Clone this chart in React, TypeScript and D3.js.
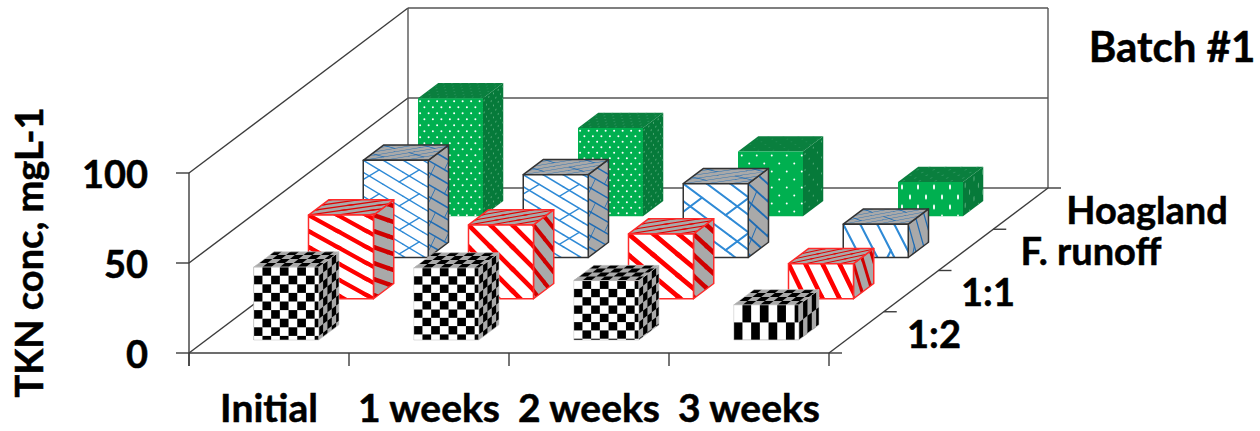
import React from "react";
import * as d3 from "d3";

// TKN concentration per batch week, one list per treatment.
const categories = ["Initial", "1 weeks", "2 weeks", "3 weeks"];
const seriesNames = ["1:2", "1:1", "F. runoff", "Hoagland"];
const ratio12 = [40.5, 40, 33, 19.5];
const ratio11 = [46.5, 41, 36, 19.5];
const runoff = [54, 46, 41, 18.5];
const hoagland = [65.5, 49, 36, 19];
const seriesValues = [ratio12, ratio11, runoff, hoagland];
const yTicks = [0, 50, 100];

const W = 1260;
const H = 431;
const FONT = "Lato, 'Noto Sans', sans-serif";
const AXIS = "#3c3c3c";

// Floor of the 3-D box: the front edge plus the vector running to the back wall.
const frontLeft = 189;
const frontRight = 829;
const floorY = 353;
const backDx = 219;
const backDy = -165;
const wallTop = 180;

const xBand = d3.scaleBand<string>().domain(categories).range([frontLeft, frontRight]);
const depthBand = d3.scaleBand<string>().domain(seriesNames).range([0, 1]);
const heightScale = d3.scaleLinear().domain([0, 100]).range([0, wallTop]);

const barWidth = 65;
const barDepth = 0.37 * depthBand.step();
const depthGap = 0.315 * depthBand.step();

type Tile = [number, number];
type Tex = {
  kind: string;
  tiles: Tile[];
  sideFactor: number;
  topVec: Tile;
  front: [string, string];
  side: [string, string];
  top: [string, string];
  edge: string;
  edgeWidth: number;
};

// Hatch tile sizes vary per bar, since the fills stretch with the bar they cover.
const textures: Tex[] = [
  {
    kind: "checker",
    tiles: [[17.4, 17.2], [17.4, 16.6], [17.4, 16.6], [17.4, 35]],
    sideFactor: 0.5,
    topVec: [10, -8],
    front: ["#ffffff", "#000000"],
    side: ["#a9a9a9", "#000000"],
    top: ["#a9a9a9", "#000000"],
    edge: "#c8c8c8",
    edgeWidth: 0.6,
  },
  {
    kind: "stripe",
    tiles: [[29, 16], [22, 22], [25, 21], [17, 35]],
    sideFactor: 0.5,
    topVec: [6.5, -5],
    front: ["#ffffff", "#ff0000"],
    side: ["#a9a9a9", "#d00000"],
    top: ["#a9a9a9", "#e00000"],
    edge: "#ff2a2a",
    edgeWidth: 1.5,
  },
  {
    kind: "brick",
    tiles: [[40, 24], [40, 24], [47, 35], [34, 66]],
    sideFactor: 0.45,
    topVec: [11, -8.5],
    front: ["#ffffff", "#2f8ad6"],
    side: ["#a9a9a9", "#1f6cb4"],
    top: ["#a9a9a9", "#1f6cb4"],
    edge: "#333333",
    edgeWidth: 1.5,
  },
  {
    kind: "dots",
    tiles: [[8.5, 12], [8.5, 11], [15, 16], [16, 20]],
    sideFactor: 0.55,
    topVec: [7, -5.5],
    front: ["#00b050", "#ffffff"],
    side: ["#067a3a", "#58ad7d"],
    top: ["#0a7f3e", "#2f9560"],
    edge: "none",
    edgeWidth: 0,
  },
];

function TileMarks({ kind, ink, rx, ry }: { kind: string; ink: string; rx: number; ry: number }) {
  if (kind === "checker") {
    return (
      <g fill={ink}>
        <rect x={50} y={0} width={50} height={50} />
        <rect x={0} y={50} width={50} height={50} />
      </g>
    );
  }
  if (kind === "stripe") {
    return <line x1={0} y1={0} x2={100} y2={100} stroke={ink} strokeWidth={21} strokeLinecap="square" />;
  }
  if (kind === "brick") {
    return (
      <g stroke={ink} strokeWidth={5} fill="none" strokeLinecap="round">
        <line x1={0} y1={0} x2={100} y2={100} />
        <line x1={0} y1={50} x2={50} y2={100} />
        <line x1={50} y1={0} x2={100} y2={50} />
        <line x1={15} y1={65} x2={40} y2={40} />
        <line x1={90} y1={90} x2={115} y2={65} />
      </g>
    );
  }
  return (
    <g fill={ink}>
      <ellipse cx={25} cy={25} rx={rx} ry={ry} />
      <ellipse cx={75} cy={75} rx={rx} ry={ry} />
    </g>
  );
}

// Paints a polygon with a hatch tile laid out along the face's own axes.
function Face({
  id,
  points,
  matrix,
  colours,
  kind,
  rx,
  ry,
  edge,
  edgeWidth,
}: {
  id: string;
  points: number[][];
  matrix: number[];
  colours: [string, string];
  kind: string;
  rx: number;
  ry: number;
  edge: string;
  edgeWidth: number;
}) {
  const [a, b, c, d, e, f] = matrix;
  const det = a * d - b * c;
  const local = points.map(([x, y]) => [
    (d * (x - e) - c * (y - f)) / det,
    (a * (y - f) - b * (x - e)) / det,
  ]);
  const uRange = d3.extent(local, (p) => p[0]) as [number, number];
  const vRange = d3.extent(local, (p) => p[1]) as [number, number];
  const cols = d3.range(Math.floor(uRange[0] / 100) - 1, Math.ceil(uRange[1] / 100) + 1);
  const rows = d3.range(Math.floor(vRange[0] / 100) - 1, Math.ceil(vRange[1] / 100) + 1);
  const pts = points.map((q) => q.join(",")).join(" ");
  return (
    <g>
      <clipPath id={id}>
        <polygon points={pts} />
      </clipPath>
      <polygon points={pts} fill={colours[0]} />
      <g clipPath={`url(#${id})`}>
        <g transform={`matrix(${matrix.map((v) => v.toFixed(4)).join(" ")})`}>
          {cols.flatMap((i) =>
            rows.map((j) => (
              <g key={`${i}:${j}`} transform={`translate(${i * 100},${j * 100})`}>
                <TileMarks kind={kind} ink={colours[1]} rx={rx} ry={ry} />
              </g>
            )),
          )}
        </g>
      </g>
      <polygon points={pts} fill="none" stroke={edge} strokeWidth={edgeWidth} strokeLinejoin="round" />
    </g>
  );
}

function Bar({ s, c }: { s: number; c: number }) {
  const tex = textures[s];
  const value = seriesValues[s][c];
  const [tw, th] = tex.tiles[c];
  const depthAt = (depthBand(seriesNames[s]) as number) + depthGap;
  const x0 = (xBand(categories[c]) as number) + (xBand.step() - barWidth) / 2 + depthAt * backDx;
  const base = floorY + depthAt * backDy;
  const top = base - heightScale(value);
  const x1 = x0 + barWidth;
  const dx = barDepth * backDx;
  const dy = barDepth * backDy;
  const id = `bar-${s}-${c}`;
  const sideU = tw * tex.sideFactor;
  // Dots keep a one-pixel size, except on the tallest-stretched tile where they elongate.
  const rx = 100 / tw;
  const ry = th >= 20 ? 14 : 100 / th;
  const shared = { kind: tex.kind, rx, ry, edge: tex.edge, edgeWidth: tex.edgeWidth };
  return (
    <g>
      <Face
        id={`${id}-s`}
        points={[[x1, top], [x1 + dx, top + dy], [x1 + dx, base + dy], [x1, base]]}
        matrix={[sideU / 100, (sideU * (dy / dx)) / 100, 0, th / 100, x1, top]}
        colours={tex.side}
        {...shared}
      />
      <Face
        id={`${id}-t`}
        points={[[x0, top], [x0 + dx, top + dy], [x1 + dx, top + dy], [x1, top]]}
        matrix={[tw / 100, 0, tex.topVec[0] / 100, tex.topVec[1] / 100, x0, top]}
        colours={tex.top}
        {...shared}
      />
      <Face
        id={`${id}-f`}
        points={[[x0, top], [x1, top], [x1, base], [x0, base]]}
        matrix={[tw / 100, 0, 0, th / 100, x0, top]}
        colours={tex.front}
        {...shared}
      />
    </g>
  );
}

const labelStyle = {
  fontFamily: FONT,
  fontWeight: 700,
  fill: "#000",
  stroke: "#000",
  strokeWidth: 0.5,
} as const;

export default function App() {
  const tickLen = 13;
  const xTickValues = [...xBand.domain().map((d) => xBand(d) as number), frontRight];
  const depthTicks = d3.range(0, 1.0001, depthBand.step());
  const depthLabelPos: [number, number][] = [
    [934, 348],
    [988, 306],
    [1091, 265],
    [1147, 224],
  ];
  return (
    <svg
      width={W}
      height={H}
      viewBox={`0 0 ${W} ${H}`}
      style={{ position: "absolute", left: 0, top: 0, background: "#fff" }}
    >
      {/* Back and side walls with their gridlines */}
      <g stroke={AXIS} strokeWidth={1.4} fill="none">
        {yTicks.map((t) => {
          const y = floorY - heightScale(t);
          return (
            <g key={t}>
              <line x1={frontLeft - tickLen} y1={y} x2={frontLeft} y2={y} />
              <line x1={frontLeft} y1={y} x2={frontLeft + backDx} y2={y + backDy} />
              <line x1={frontLeft + backDx} y1={y + backDy} x2={frontRight + backDx} y2={y + backDy} stroke="#555" />
            </g>
          );
        })}
        <line x1={frontLeft} y1={floorY - wallTop} x2={frontLeft} y2={floorY + tickLen} />
        <line
          x1={frontLeft + backDx}
          y1={floorY + backDy - wallTop}
          x2={frontLeft + backDx}
          y2={floorY + backDy}
          stroke="#555"
        />
        <line
          x1={frontRight + backDx}
          y1={floorY + backDy - wallTop}
          x2={frontRight + backDx}
          y2={floorY + backDy}
          stroke="#555"
        />
        <line x1={frontLeft} y1={floorY} x2={frontRight} y2={floorY} />
        <line x1={frontRight} y1={floorY} x2={frontRight + backDx} y2={floorY + backDy} />
        {xTickValues.map((x) => (
          <line key={x} x1={x} y1={floorY} x2={x} y2={floorY + tickLen} />
        ))}
        {depthTicks.map((d) => (
          <line
            key={d}
            x1={frontRight + d * backDx}
            y1={floorY + d * backDy}
            x2={frontRight + d * backDx + tickLen}
            y2={floorY + d * backDy}
          />
        ))}
      </g>

      {/* Bars, back row first so nearer rows cover them */}
      {d3.range(seriesNames.length - 1, -1, -1).map((s) =>
        categories.map((_, c) => <Bar key={`${s}-${c}`} s={s} c={c} />),
      )}

      {/* Text */}
      <g style={labelStyle} fontSize={38}>
        {yTicks.map((t) => (
          <text key={t} x={148} y={floorY - heightScale(t) + 15} textAnchor="end">
            {t}
          </text>
        ))}
        {categories.map((c) => (
          <text
            key={c}
            x={(xBand(c) as number) + xBand.step() / 2}
            y={422}
            textAnchor="middle"
            fontSize={39}
          >
            {c}
          </text>
        ))}
        {seriesNames.map((n, i) => (
          <text key={n} x={depthLabelPos[i][0]} y={depthLabelPos[i][1]} textAnchor="middle">
            {n}
          </text>
        ))}
        <text x={1172} y={62} textAnchor="middle" fontSize={42}>
          Batch #1
        </text>
        <text transform="translate(43,252.5) rotate(-90)" textAnchor="middle">
          TKN conc, mgL-1
        </text>
      </g>
    </svg>
  );
}
